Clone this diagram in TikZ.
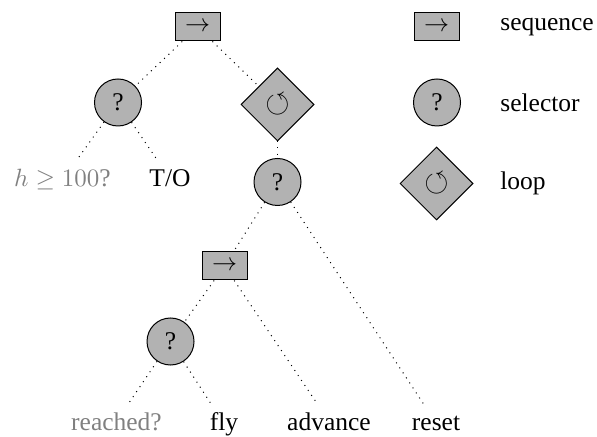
\documentclass[tikz,border=0pt]{standalone}
\usepackage{amssymb}
\usepackage{fontspec}
\setmainfont{Liberation Serif}
\usetikzlibrary{shapes.geometric}
\tikzset{
  base/.style={draw=black, fill=black!30, thin, inner sep=0pt},
  seqbox/.style={base, rectangle, minimum width=18pt, minimum height=11.2pt},
  selbox/.style={base, circle, minimum size=18.8pt},
  loopbox/.style={base, diamond, minimum size=29.2pt},
  leaf/.style={anchor=base},
  cond/.style={leaf, text=gray},
  legendtext/.style={anchor=west},
  link/.style={dotted, thin}
}
\newcommand{\seqsym}{$\rightarrow$}
\newcommand{\selsym}{?}
\newcommand{\loopsym}{{\fontsize{12.5}{12.5}\selectfont$\circlearrowleft$}}
\begin{document}
\begin{tikzpicture}[x=0.4pt, y=-0.4pt, font=\fontsize{10.2}{12}\selectfont]
  \useasboundingbox (0,0) rectangle (597,437);

  % behaviour tree
  \node[seqbox]  (root)  at (197.5,27)   {\seqsym};
  \node[selbox]  (sel1)  at (118,102.5)  {\selsym};
  \node[loopbox] (loop)  at (277.5,104.5){\loopsym};
  \node[cond]    (high)  at (62.5,187)   {$h \geq 100$?};
  \node[leaf]    (to)    at (170,187)    {T/O};
  \node[selbox]  (sel2)  at (277.5,182)  {\selsym};
  \node[seqbox]  (seq2)  at (224.5,266)  {\seqsym};
  \node[selbox]  (sel3)  at (170.5,341.5){\selsym};
  \node[cond]    (reach) at (116.5,430)  {reached?};
  \node[leaf]    (fly)   at (224,430)    {fly};
  \node[leaf]    (adv)   at (329,430)    {advance};
  \node[leaf]    (reset) at (436,430)    {reset};

  \draw[link] (root) -- (sel1);
  \draw[link] (root) -- (loop);
  \draw[link] (sel1) -- (high);
  \draw[link] (sel1) -- (to);
  \draw[link] (loop) -- (sel2);
  \draw[link] (sel2) -- (seq2);
  \draw[link] (sel2) -- (reset);
  \draw[link] (seq2) -- (sel3);
  \draw[link] (seq2) -- (adv);
  \draw[link] (sel3) -- (reach);
  \draw[link] (sel3) -- (fly);

  % legend
  \node[seqbox]  (kseq)  at (436.5,27)   {\seqsym};
  \node[selbox]  (ksel)  at (437,102.5)  {\selsym};
  \node[loopbox] (kloop) at (436.5,183.5){\loopsym};
  \node[legendtext] (tseq)  at (491.5,27)    {sequence};
  \node[legendtext] (tsel)  at (491.5,102.5) {selector};
  \node[legendtext] (tloop) at (491.5,183.5) {loop};
\end{tikzpicture}
\end{document}
